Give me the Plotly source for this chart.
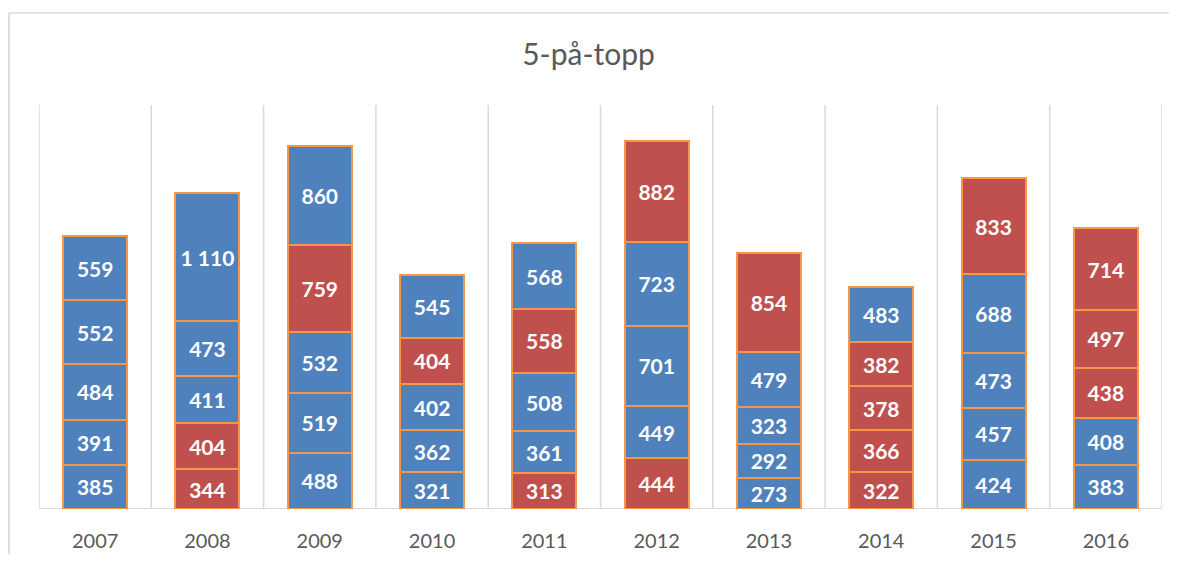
import plotly.graph_objects as go

years = ["2007", "2008", "2009", "2010", "2011", "2012", "2013", "2014", "2015", "2016"]

# Stack levels, bottom (1) to top (5)
level1 = [385, 344, 488, 321, 313, 444, 273, 322, 424, 383]
level2 = [391, 404, 519, 362, 361, 449, 292, 366, 457, 408]
level3 = [484, 411, 532, 402, 508, 701, 323, 378, 473, 438]
level4 = [552, 473, 759, 404, 558, 723, 479, 382, 688, 497]
level5 = [559, 1110, 860, 545, 568, 882, 854, 483, 833, 714]

# Colour group per segment: "B" blue, "R" red
group1 = ["B", "R", "B", "B", "R", "R", "B", "R", "B", "B"]
group2 = ["B", "R", "B", "B", "B", "B", "B", "R", "B", "B"]
group3 = ["B", "B", "B", "B", "B", "B", "B", "R", "B", "R"]
group4 = ["B", "B", "R", "R", "R", "B", "B", "R", "B", "R"]
group5 = ["B", "B", "B", "B", "B", "R", "R", "B", "R", "R"]

BLUE = "#4F81BD"
RED = "#C0504D"
EDGE = "#F79646"
GRID = "#D9D9D9"
FONT = "Lato, 'Open Sans', sans-serif"

def fmt(v):
    return f"{v:,}".replace(",", " ")

fig = go.Figure()
for vals, grp in [(level1, group1), (level2, group2), (level3, group3),
                  (level4, group4), (level5, group5)]:
    fig.add_trace(go.Bar(
        x=years, y=vals,
        marker=dict(color=[BLUE if g == "B" else RED for g in grp],
                    line=dict(color=EDGE, width=2)),
        text=[fmt(v) for v in vals],
        textposition="inside",
        insidetextanchor="middle",
        textangle=0,
        textfont=dict(family=FONT, size=21, color="white", weight="bold"),
        hoverinfo="skip",
        width=0.57,
    ))

shapes = []
# category separator gridlines
for i in range(11):
    shapes.append(dict(type="line", xref="x", yref="paper",
                       x0=i - 0.5, x1=i - 0.5, y0=0, y1=1,
                       line=dict(color=GRID, width=1.5), layer="below"))
# baseline
shapes.append(dict(type="line", xref="paper", yref="y", x0=0, x1=1, y0=0, y1=0,
                   line=dict(color=GRID, width=2), layer="below"))
# chart border box
shapes.append(dict(type="rect", xref="paper", yref="paper",
                   x0=-0.0267, x1=1.2, y0=-0.5, y1=1.2277,
                   line=dict(color="#C8C8C8", width=1.2), fillcolor="rgba(0,0,0,0)",
                   layer="below"))

fig.update_layout(
    barmode="stack",
    showlegend=False,
    width=1161, height=546,
    margin=dict(l=31, r=7, t=97, b=45),
    paper_bgcolor="white", plot_bgcolor="white",
    title=dict(text="5-på-topp", x=0.5, xanchor="center", y=0.914, yanchor="middle",
               font=dict(family=FONT, size=30, color="#595959")),
    xaxis=dict(type="category", showgrid=False, showline=False, ticks="",
               tickfont=dict(family=FONT, size=20, color="#595959"),
               ticklabelstandoff=18, automargin=False,
               range=[-0.5, 9.5]),
    yaxis=dict(range=[0, 3510], visible=False, showgrid=False, automargin=False),
    shapes=shapes,
    bargap=0.43,
)

fig.write_html("out.html")
